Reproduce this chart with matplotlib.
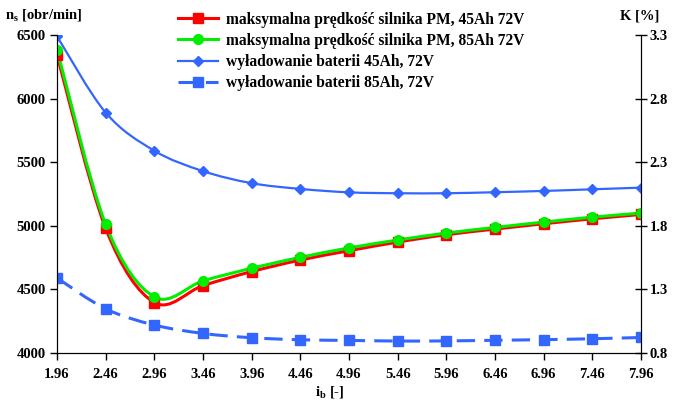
"""Max PM motor speed and battery discharge vs. gear ratio i_b (Excel-style smoothed lines)."""
import matplotlib
matplotlib.use("Agg")
import matplotlib.pyplot as plt
import numpy as np
from matplotlib.path import Path
from matplotlib.patches import PathPatch
from matplotlib.lines import Line2D

plt.rcParams["font.family"] = ["Liberation Serif", "DejaVu Serif"]
plt.rcParams["font.weight"] = "bold"

ib = [1.96, 2.46, 2.96, 3.46, 3.96, 4.46, 4.96, 5.46, 5.96, 6.46, 6.96, 7.46, 7.96]
ib_labels = ["1.96", "2.46", "2.96", "3.46", "3.96", "4.46", "4.96", "5.46", "5.96",
             "6.46", "6.96", "7.46", "7.96"]
n_45 = [6343, 4980, 4397, 4530, 4640, 4731, 4804, 4872, 4930, 4974, 5016, 5055, 5089]
n_85 = [6385, 5011, 4441, 4567, 4666, 4752, 4826, 4888, 4943, 4987, 5029, 5068, 5100]
k_45 = [3.29, 2.69, 2.39, 2.23, 2.135, 2.09, 2.063, 2.056, 2.056, 2.064, 2.074, 2.087, 2.10]
k_85 = [1.39, 1.147, 1.02, 0.954, 0.92, 0.904, 0.899, 0.894, 0.895, 0.90, 0.905, 0.912, 0.922]

labels = ["maksymalna prędkość silnika PM, 45Ah 72V",
          "maksymalna prędkość silnika PM, 85Ah 72V",
          "wyładowanie baterii 45Ah, 72V",
          "wyładowanie baterii 85Ah, 72V"]
BLUE = "#3366ff"


def smooth(ax, x, y, **kw):
    # Catmull-Rom through the points, as cubic Bezier segments (Excel "smoothed line")
    p = np.column_stack([x, y]).astype(float)
    verts, codes = [p[0]], [Path.MOVETO]
    for i in range(len(p) - 1):
        p0 = p[i - 1] if i > 0 else p[i]
        p3 = p[i + 2] if i + 2 < len(p) else p[i + 1]
        c1 = p[i] + (p[i + 1] - p0) / 6
        c2 = p[i + 1] - (p3 - p[i]) / 6
        verts += [c1, c2, p[i + 1]]
        codes += [Path.CURVE4] * 3
    ax.add_patch(PathPatch(Path(verts, codes), fill=False, **kw))


fig = plt.figure(figsize=(6.73, 4.07), dpi=100)
ax = fig.add_axes([57 / 673, 1 - 353 / 407, 584 / 673, 318 / 407])
ax2 = ax.twinx()

smooth(ax, ib, n_45, edgecolor="red", lw=2.2, zorder=3)
smooth(ax, ib, n_85, edgecolor="#00ee00", lw=2.2, zorder=3)
ax.plot(ib, n_45, "s", color="red", ms=7, zorder=4)
ax.plot(ib, n_85, "o", color="#00ee00", ms=7, zorder=5)
smooth(ax2, ib, k_45, edgecolor=BLUE, lw=1.6)
smooth(ax2, ib, k_85, edgecolor=BLUE, lw=2.2, linestyle=(0, (6, 3)))
ax2.plot(ib, k_45, "D", color=BLUE, ms=5)
ax2.plot(ib, k_85, "s", color=BLUE, ms=6.5)

ax.set_xlim(1.96, 7.96)
ax.set_ylim(4000, 6500)
ax2.set_ylim(0.8, 3.3)
ax.set_xticks(ib, ib_labels)
ax.set_yticks(np.arange(4000, 6501, 500))
ax2.set_yticks([0.8, 1.3, 1.8, 2.3, 2.8, 3.3])
for a in (ax, ax2):
    a.spines["top"].set_visible(False)
    a.tick_params(labelsize=10.5, width=1, length=5, color="black")
ax.tick_params(axis="y", direction="out", pad=3)
ax.tick_params(axis="x", direction="out", pad=6)
ax2.tick_params(axis="y", direction="inout", length=8, pad=2)

fig.text(0.008, 1 - 16 / 407, r"n$_\mathregular{s}$ [obr/min]", fontsize=10.5,
         fontweight="bold", va="center")
fig.text(640 / 673, 1 - 16 / 407, "K [%]", fontsize=10.5, fontweight="bold",
         ha="center", va="center")
fig.text(330 / 673, 1 - 393 / 407, r"i$_\mathregular{b}$ [-]", fontsize=10.5,
         fontweight="bold", ha="center", va="center")

handles = [
    Line2D([], [], color="red", lw=2.2, marker="s", ms=7),
    Line2D([], [], color="#00ee00", lw=2.2, marker="o", ms=7),
    Line2D([], [], color=BLUE, lw=1.6, marker="D", ms=5),
    Line2D([], [], color=BLUE, lw=2.2, marker="s", ms=6.5, linestyle=(0, (6, 3))),
]
fig.legend(handles, labels, loc="upper left", bbox_to_anchor=(170 / 673, 1 - 4 / 407),
           frameon=False, fontsize=11.2, handlelength=2.6, labelspacing=0.33,
           handletextpad=0.5, borderpad=0)

fig.savefig("out.png", dpi=100)
